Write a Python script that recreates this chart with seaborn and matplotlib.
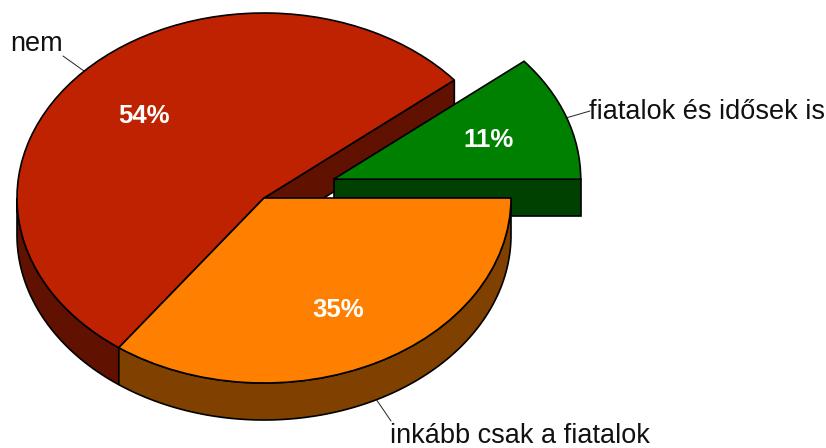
import numpy as np
import matplotlib
matplotlib.use('Agg')
import matplotlib.pyplot as plt
import seaborn as sns

# Slices, counter-clockwise from the east
labels = ['fiatalok és idősek is', 'nem', 'inkább csak a fiatalok']
values = [11, 54, 35]
colors = ['#008000', '#BF2200', '#FF8000']
explode = [0.3, 0, 0]

sns.set_style('white')
plt.rcParams['font.family'] = ['Liberation Sans', 'DejaVu Sans']

W, H = 826, 448
RX, RY = 247, 185      # ellipse radii in pixels
CX, CY = 264, 198      # pie centre in pixels
DEPTH = 37 / RY        # height of the pie wall

palette = sns.color_palette(colors)
dark = [tuple(np.array(c) / 2) for c in palette]

# Angles of the slices
edges = np.cumsum([0] + values) / sum(values) * 2 * np.pi


def arc_wall(a, b, off=(0, 0)):
    t = np.linspace(a, b, 120)
    x = off[0] + np.cos(t)
    y = off[1] + np.sin(t)
    return np.r_[x, x[::-1]], np.r_[y, y[::-1] - DEPTH]


def cut_wall(a, off=(0, 0)):
    x = off[0] + np.array([0, np.cos(a), np.cos(a), 0])
    y = off[1] + np.array([0, np.sin(a), np.sin(a) - DEPTH, -DEPTH])
    return x, y


fig = plt.figure(figsize=(W / 100, H / 100), dpi=100)
ax = fig.add_axes([0, 0, 1, 1])

wedges, _, pcts = ax.pie(values, explode=explode, colors=palette, startangle=0,
                         counterclock=True, autopct='%.0f%%', pctdistance=0.665,
                         wedgeprops={'edgecolor': 'black', 'linewidth': 1.2})
for w in wedges:
    w.set_zorder(3)
for p in pcts:
    p.set(color='white', fontweight='bold', fontsize=18.5,
          va='center_baseline', zorder=4)

wall = {'edgecolor': 'black', 'linewidth': 1.2}

# Walls of the red slice
ax.fill(*cut_wall(edges[1]), facecolor=dark[1], zorder=1, **wall)
ax.fill(*arc_wall(np.pi, edges[2]), facecolor=dark[1], zorder=1, **wall)

# Cut face of the pulled out green slice
mid = (edges[0] + edges[1]) / 2
off = (explode[0] * np.cos(mid), explode[0] * np.sin(mid))
ax.fill(*cut_wall(edges[0], off), facecolor=dark[0], zorder=1.5, **wall)

# Wall of the orange slice
ax.fill(*arc_wall(edges[2], edges[3]), facecolor=dark[2], zorder=2, **wall)

ax.set_aspect('auto')
ax.set_xlim(-CX / RX, (W - CX) / RX)
ax.set_ylim(-(H - CY) / RY, CY / RY)


def px(x, y):
    return (x - CX) / RX, (CY - y) / RY


# Labels with leader lines
label_pos = [(589, 112, (590, 111), (566, 118)),
             (10, 44, (63, 56), (84, 71)),
             (390, 436, (391, 421), (376, 399))]
for name, (x, y, p0, p1) in zip(labels, label_pos):
    ax.text(*px(x, y), name, fontsize=19.5, ha='left', va='center', color='#111111', zorder=5)
    ax.plot(*zip(px(*p0), px(*p1)), color='#222222', linewidth=0.7, zorder=0.5)

fig.savefig('out.png', dpi=100)
